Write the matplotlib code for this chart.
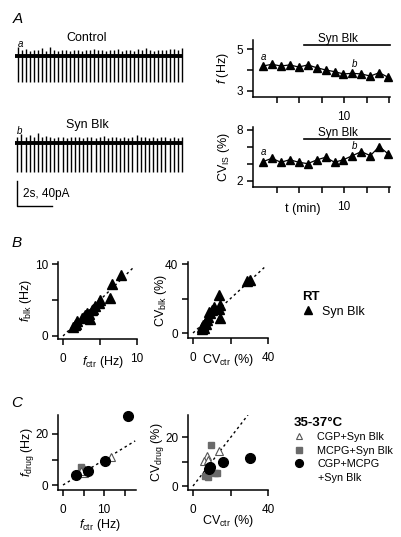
import numpy as np
import matplotlib
matplotlib.use("Agg")
import matplotlib.pyplot as plt

plt.rcParams['font.family'] = ['Liberation Sans', 'DejaVu Sans']
plt.rcParams['mathtext.fontset'] = 'custom'
plt.rcParams['mathtext.rm'] = 'Liberation Sans'
plt.rcParams['mathtext.it'] = 'Liberation Sans:italic'
plt.rcParams['font.size'] = 8.5

W, H = 401, 537

# ---- data ----
# A: example traces (spike times in s, upward deflection in pA)
ctrl_spikes = [0.19, 0.42, 0.64, 0.87, 1.10, 1.33, 1.55, 1.78, 2.01, 2.24,
               2.47, 2.69, 2.92, 3.15, 3.37, 3.60, 3.83, 4.06, 4.29, 4.52,
               4.75, 4.97, 5.20, 5.43, 5.66, 5.89, 6.12, 6.34, 6.57, 6.80,
               7.02, 7.25, 7.48, 7.71, 7.93, 8.16, 8.39, 8.62, 8.85, 9.07,
               9.30, 9.52]
ctrl_up = [14, 9, 11, 8, 10, 9, 13, 8, 15, 9, 8, 10, 9, 8, 10, 9, 8, 10, 9, 11,
           10, 9, 8, 10, 9, 11, 8, 9, 10, 8, 12, 9, 13, 9, 8, 10, 9, 10, 12, 11,
           9, 13]
ctrl_depth = 42
blk_spikes = [0.13, 0.37, 0.60, 0.84, 1.07, 1.31, 1.54, 1.78, 2.01, 2.25,
              2.48, 2.72, 2.95, 3.19, 3.42, 3.66, 3.89, 4.13, 4.36, 4.60,
              4.83, 5.07, 5.30, 5.54, 5.77, 6.01, 6.24, 6.48, 6.71, 6.95,
              7.18, 7.42, 7.65, 7.89, 8.12, 8.36, 8.59, 8.83, 9.06, 9.30, 9.52]
blk_up = [10, 14, 9, 12, 10, 16, 9, 11, 10, 8, 9, 10, 8, 9, 10, 9, 8, 9, 10, 8,
          9, 11, 8, 9, 10, 8, 9, 8, 10, 12, 9, 10, 8, 9, 8, 9, 10, 8, 9, 8, 9]
blk_depth = 46

# A: time course
t_min = [2.74, 3.54, 4.34, 5.14, 5.94, 6.74, 7.54, 8.34, 9.14, 9.94,
         10.74, 11.54, 12.34, 13.14, 13.94]
f_hz = [4.19, 4.27, 4.19, 4.24, 4.14, 4.24, 4.11, 4.00, 3.92, 3.81,
        3.84, 3.81, 3.71, 3.87, 3.65]
cv_pct = [4.27, 4.67, 4.20, 4.50, 4.20, 4.04, 4.47, 4.79, 4.20, 4.50,
          4.98, 5.45, 4.98, 6.04, 5.18]
blk_start, blk_end = 6.4, 14.1

# B: room temperature, Syn Blk
fctr_rt = [7.9, 6.6, 6.4, 5.0, 4.8, 4.3, 3.9, 4.0, 3.5, 3.2, 3.0, 2.8, 3.6, 2.6, 1.9, 1.7, 1.4, 1.6]
fblk_rt = [8.5, 7.2, 5.3, 5.0, 4.6, 4.1, 3.6, 3.8, 3.0, 3.2, 2.9, 2.6, 2.4, 2.5, 2.1, 1.7, 1.3, 1.5]
cvctr_rt = [30.4, 28.8, 14.0, 14.4, 14.0, 14.4, 10.0, 9.1, 8.2, 7.3, 6.4, 5.5, 4.6, 6.0, 8.5, 11.0, 5.0, 7.0]
cvblk_rt = [30.8, 30.4, 22.1, 16.3, 13.8, 8.5, 13.4, 11.4, 9.5, 7.6, 6.0, 4.7, 3.7, 3.0, 12.0, 15.0, 2.5, 5.5]

# C: 35-37 C
fctr_cgp = [11.7, 5.4, 5.0, 4.5]
fdrug_cgp = [11.1, 5.2, 4.8, 5.5]
fctr_mcpg = [4.3, 4.6, 5.2, 5.8, 5.5]
fdrug_mcpg = [7.2, 6.4, 5.8, 5.5, 6.0]
fctr_both = [15.9, 10.2, 6.2, 3.1]
fdrug_both = [27.2, 9.5, 5.6, 3.8]

cvctr_cgp = [14.0, 7.3, 5.9, 8.2]
cvdrug_cgp = [14.4, 12.2, 10.2, 10.6]
cvctr_mcpg = [9.4, 6.4, 8.2, 12.6, 11.7]
cvdrug_mcpg = [16.7, 4.1, 3.5, 5.4, 5.2]
cvctr_both = [9.1, 16.2, 30.4, 8.5]
cvdrug_both = [7.9, 9.9, 11.3, 7.0]

GRAY = '#6a6a6a'
TICK = 8.5
LAB = 9

fig = plt.figure(figsize=(W / 100, H / 100), dpi=100)


def px_axes(l, t, r, b):
    return fig.add_axes([l / W, 1 - b / H, (r - l) / W, (b - t) / H])


def style(ax):
    for s in ['top', 'right']:
        ax.spines[s].set_visible(False)
    for s in ['left', 'bottom']:
        ax.spines[s].set_linewidth(1.1)
    ax.tick_params(direction='out', length=4, width=1.1, labelsize=TICK)
    ax.tick_params(axis='x', pad=6)
    ax.tick_params(axis='y', pad=3)


def ftext(x, y, s, **kw):
    fig.text(x / W, 1 - y / H, s, **kw)


# ---- A: traces ----
tr = px_axes(15, 30, 185, 215)
tr.set_xlim(0, 170 / 17.5)
tr.set_ylim(-254.4, 41.6)
tr.axis('off')
tr.plot([0, 9.54], [0, 0], color='k', lw=2.8, solid_capstyle='butt')
tr.vlines(ctrl_spikes, -ctrl_depth, ctrl_up, color='k', lw=1.0)
off = -139
tr.plot([0, 9.56], [off, off], color='k', lw=2.8, solid_capstyle='butt')
tr.vlines(blk_spikes, off - blk_depth, off + np.array(blk_up), color='k', lw=1.0)
# scale bar 2 s, 40 pA
tr.plot([0.114, 0.114, 2.114], [-200, -240, -240], color='k', lw=1.0)

ftext(18, 19, 'A', fontsize=11, style='italic', ha='center', va='center')
ftext(87, 38, 'Control', fontsize=9, ha='center', va='center')
ftext(20, 44, 'a', fontsize=7, style='italic', ha='center', va='center')
ftext(87, 125, 'Syn Blk', fontsize=9, ha='center', va='center')
ftext(20, 131, 'b', fontsize=7, style='italic', ha='center', va='center')
ftext(23, 194, '2s, 40pA', fontsize=8.5, ha='left', va='center')

# ---- A: f time course ----
axf = px_axes(253, 40, 390, 97)
axf.plot(t_min, f_hz, color='k', lw=0.9, marker='^', ms=5.5, clip_on=False)
axf.set_xlim(1.85, 14.1)
axf.set_ylim(2.71, 5.43)
axf.set_xticks([4, 6, 8, 10, 12, 14])
axf.set_xticklabels(['', '', '', '10', '', ''])
axf.set_yticks([3, 4, 5])
axf.set_yticklabels(['3', '', '5'])
style(axf)
axf.set_ylabel(r'$f$ (Hz)', fontsize=LAB)
axf.yaxis.set_label_coords(-0.16, 0.5)
axf.plot([blk_start, blk_end], [5.19, 5.19], color='k', lw=1.2, clip_on=False)
axf.text(9.44, 5.48, 'Syn Blk', fontsize=8.5, ha='center', va='center')
axf.text(2.83, 4.62, 'a', fontsize=7, style='italic', ha='center', va='center')
axf.text(10.9, 4.29, 'b', fontsize=7, style='italic', ha='center', va='center')

# ---- A: CV time course ----
axc = px_axes(253, 127, 390, 187)
axc.plot(t_min, cv_pct, color='k', lw=0.9, marker='^', ms=5.5, clip_on=False)
axc.set_xlim(1.85, 14.1)
axc.set_ylim(1.29, 8.35)
axc.set_xticks([4, 6, 8, 10, 12, 14])
axc.set_xticklabels(['', '', '', '10', '', ''])
axc.set_yticks([2, 4, 6, 8])
axc.set_yticklabels(['2', '', '', '8'])
style(axc)
axc.set_ylabel(r'CV$_{\rm IS}$ (%)', fontsize=LAB)
axc.yaxis.set_label_coords(-0.15, 0.5)
axc.set_xlabel('t (min)', fontsize=LAB)
axc.xaxis.set_label_coords(0.365, -0.26)
axc.plot([blk_start, blk_end], [6.94, 6.94], color='k', lw=1.2, clip_on=False)
axc.text(9.44, 7.65, 'Syn Blk', fontsize=8.5, ha='center', va='center')
axc.text(2.83, 5.41, 'a', fontsize=7, style='italic', ha='center', va='center')
axc.text(10.9, 6.12, 'b', fontsize=7, style='italic', ha='center', va='center')

# ---- B ----
ftext(17, 243, 'B', fontsize=11, style='italic', ha='center', va='center')
axb1 = px_axes(58, 262, 137, 339)
axb1.plot([0, 9.5], [0, 9.5], color='k', lw=1.0, ls=(0, (1.8, 2.2)))
axb1.plot(fctr_rt, fblk_rt, ls='none', marker='^', ms=6.5, color='k', clip_on=False)
axb1.set_xlim(-0.68, 10)
axb1.set_ylim(-0.42, 10.28)
axb1.set_xticks([0, 5, 10])
axb1.set_xticklabels(['0', '', '10'])
axb1.set_yticks([0, 5, 10])
axb1.set_yticklabels(['0', '', '10'])
style(axb1)
axb1.set_xlabel(r'$f_{\rm ctr}$ (Hz)', fontsize=LAB)
axb1.xaxis.set_label_coords(0.57, -0.2)
axb1.set_ylabel(r'$f_{\rm blk}$ (Hz)', fontsize=LAB)
axb1.yaxis.set_label_coords(-0.3, 0.5)

axb2 = px_axes(188, 262, 268, 338)
axb2.plot([0, 38], [0, 38], color='k', lw=1.0, ls=(0, (1.8, 2.2)))
rt = axb2.plot(cvctr_rt, cvblk_rt, ls='none', marker='^', ms=6.5, color='k', clip_on=False)[0]
axb2.set_xlim(-2.67, 40)
axb2.set_ylim(-2.9, 41.2)
axb2.set_xticks([0, 20, 40])
axb2.set_xticklabels(['0', '', '40'])
axb2.set_yticks([0, 20, 40])
axb2.set_yticklabels(['0', '', '40'])
style(axb2)
axb2.set_xlabel(r'CV$_{\rm ctr}$ (%)', fontsize=LAB)
axb2.xaxis.set_label_coords(0.5, -0.18)
axb2.set_ylabel(r'CV$_{\rm blk}$ (%)', fontsize=LAB)
axb2.yaxis.set_label_coords(-0.24, 0.5)

fig.legend([rt], ['Syn Blk'], loc='upper left',
           bbox_to_anchor=(302 / W, 1 - 291 / H), frameon=False,
           fontsize=9, title='RT', title_fontproperties={'weight': 'bold', 'size': 9.5},
           alignment='left', borderpad=0, borderaxespad=0, handlelength=0.9,
           handletextpad=0.7, labelspacing=0.2, markerscale=0.9)

# ---- C ----
ftext(17, 403, 'C', fontsize=11, style='italic', ha='center', va='center')
axc1 = px_axes(58, 415, 136, 490)
axc1.plot([0, 17.6], [0, 17.3], color='k', lw=1.0, ls=(0, (1.8, 2.2)))
axc1.plot(fctr_mcpg, fdrug_mcpg, ls='none', marker='s', ms=5, color=GRAY, clip_on=False)
axc1.plot(fctr_cgp, fdrug_cgp, ls='none', marker='^', ms=6, mfc='white', mec='#555555', mew=0.8, clip_on=False)
axc1.plot(fctr_both, fdrug_both, ls='none', marker='o', ms=7, color='k', clip_on=False)
axc1.set_xlim(-1.22, 17.8)
axc1.set_ylim(-1.96, 27.45)
axc1.set_xticks([0, 5, 10, 15])
axc1.set_xticklabels(['0', '', '10', ''])
axc1.set_yticks([0, 10, 20])
axc1.set_yticklabels(['0', '', '20'])
style(axc1)
axc1.set_xlabel(r'$f_{\rm ctr}$ (Hz)', fontsize=LAB)
axc1.xaxis.set_label_coords(0.54, -0.355)
axc1.set_ylabel(r'$f_{\rm drug}$ (Hz)', fontsize=LAB)
axc1.yaxis.set_label_coords(-0.28, 0.5)

axc2 = px_axes(188, 415, 268, 490)
axc2.plot([0, 29.3], [0, 29], color='k', lw=1.0, ls=(0, (1.8, 2.2)))
hm = axc2.plot(cvctr_mcpg, cvdrug_mcpg, ls='none', marker='s', ms=5, color=GRAY, clip_on=False)[0]
hc = axc2.plot(cvctr_cgp, cvdrug_cgp, ls='none', marker='^', ms=6, mfc='white', mec='#555555', mew=0.8, clip_on=False)[0]
hb = axc2.plot(cvctr_both, cvdrug_both, ls='none', marker='o', ms=7, color='k', clip_on=False)[0]
axc2.set_xlim(-2.67, 40)
axc2.set_ylim(-1.63, 29)
axc2.set_xticks([0, 20, 40])
axc2.set_xticklabels(['0', '', '40'])
axc2.set_yticks([0, 10, 20])
axc2.set_yticklabels(['0', '', '20'])
style(axc2)
axc2.set_xlabel(r'CV$_{\rm ctr}$ (%)', fontsize=LAB)
axc2.xaxis.set_label_coords(0.5, -0.31)
axc2.set_ylabel(r'CV$_{\rm drug}$ (%)', fontsize=LAB)
axc2.yaxis.set_label_coords(-0.275, 0.5)

fig.legend([hc, hm, hb], ['CGP+Syn Blk', 'MCPG+Syn Blk', 'CGP+MCPG'],
           loc='upper left', bbox_to_anchor=(294 / W, 1 - 417 / H), frameon=False,
           fontsize=7.8, title='35-37°C', title_fontproperties={'weight': 'bold', 'size': 9.5},
           alignment='left', borderpad=0, borderaxespad=0, handlelength=0.9,
           handletextpad=1.25, labelspacing=0.3, markerscale=0.8)
ftext(318, 478, '+Syn Blk', fontsize=7.8, ha='left', va='center')

fig.savefig('out.png', dpi=100)
